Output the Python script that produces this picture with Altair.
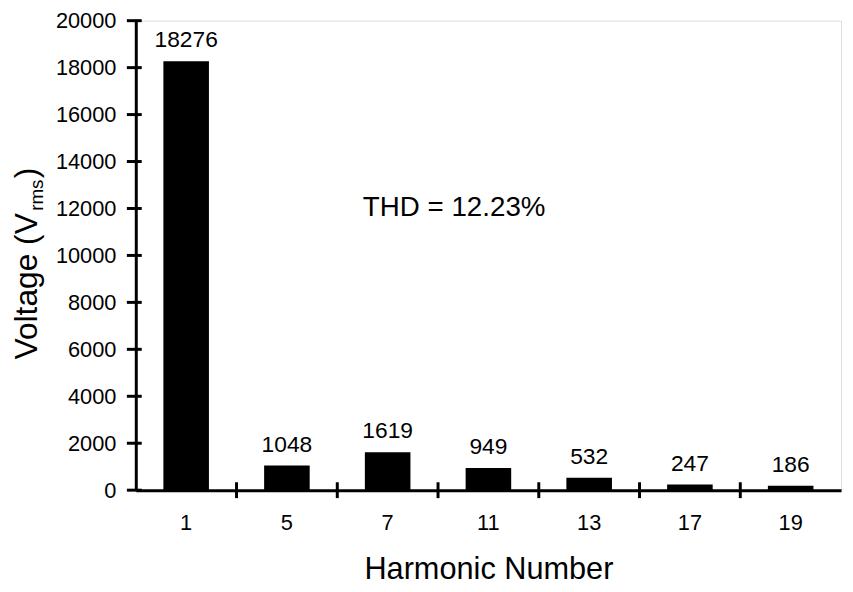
import altair as alt
import pandas as pd

harmonics = ["1", "5", "7", "11", "13", "17", "19"]
voltages = [18276, 1048, 1619, 949, 532, 247, 186]
y_ticks = [0, 2000, 4000, 6000, 8000, 10000, 12000, 14000, 16000, 18000, 20000]
x_boundaries = ["5", "7", "11", "13", "17", "19"]
thd_label = ["THD = 12.23%"]
ytitle_main = ["Voltage (V"]
ytitle_sub = ["rms"]
ytitle_end = [")"]

W, H = 712, 474
FONT = "Liberation Sans"

df = pd.DataFrame({"h": harmonics, "v": voltages})

xscale = alt.Scale(paddingInner=0, paddingOuter=0)
yscale = alt.Scale(domain=[0, 20000], nice=False)

x_enc = alt.X(
    "h:N", sort=harmonics, scale=xscale,
    axis=alt.Axis(
        title="Harmonic Number", ticks=False, grid=False, labelAngle=0,
        domainColor="black", domainWidth=3,
        labelFont=FONT, labelFontSize=22, labelColor="black", labelPadding=23,
        titleFont=FONT, titleFontSize=31, titleFontWeight="normal",
        titleColor="black", titlePadding=21,
    ),
)
y_enc = alt.Y(
    "v:Q", scale=yscale,
    axis=alt.Axis(
        values=y_ticks, format="d", ticks=False, grid=False, title=None,
        domainColor="black", domainWidth=3,
        labelFont=FONT, labelFontSize=22, labelColor="black", labelPadding=20,
    ),
)

base = alt.Chart(df)
bars = base.mark_bar(size=46, color="black").encode(x=x_enc, y=y_enc)
labels = base.mark_text(
    font=FONT, fontSize=23, color="black", baseline="alphabetic", dy=-14
).encode(x=alt.X("h:N", sort=harmonics), y="v:Q", text="v:Q")

ytick_df = pd.DataFrame({"v": y_ticks})
yticks = alt.Chart(ytick_df).mark_rule(color="black", strokeWidth=3).encode(
    y="v:Q", x=alt.value(-9), x2=alt.value(6)
)
xtick_df = pd.DataFrame({"h": x_boundaries})
xticks = alt.Chart(xtick_df).mark_rule(color="black", strokeWidth=3).encode(
    x=alt.X("h:N", sort=harmonics, bandPosition=0),
    y=alt.value(H - 8), y2=alt.value(H + 8),
)

thd = alt.Chart(pd.DataFrame({"h": ["11"], "v": [12000], "t": thd_label})).mark_text(
    font=FONT, fontSize=28, color="black", align="center", baseline="middle"
).encode(x=alt.X("h:N", sort=harmonics, bandPosition=0.16), y="v:Q", text="t:N")

yt1 = alt.Chart(pd.DataFrame({"t": ytitle_main})).mark_text(
    font=FONT, fontSize=32, color="black", angle=270, align="left", baseline="alphabetic"
).encode(x=alt.value(-100), y=alt.value(342), text="t:N")
yt2 = alt.Chart(pd.DataFrame({"t": ytitle_sub})).mark_text(
    font=FONT, fontSize=19, color="black", angle=270, align="left", baseline="alphabetic"
).encode(x=alt.value(-94), y=alt.value(192), text="t:N")
yt3 = alt.Chart(pd.DataFrame({"t": ytitle_end})).mark_text(
    font=FONT, fontSize=32, color="black", angle=270, align="left", baseline="alphabetic"
).encode(x=alt.value(-100), y=alt.value(159), text="t:N")

chart = alt.layer(bars, labels, yticks, xticks, thd, yt1, yt2, yt3).properties(
    width=W, height=H,
    autosize=alt.AutoSizeParams(type="none"),
    padding={"left": 129, "top": 10, "right": 4, "bottom": 100},
).configure_view(stroke=None).configure(background="white")

chart.save("out.html", embed_options={"renderer": "svg", "actions": False})
